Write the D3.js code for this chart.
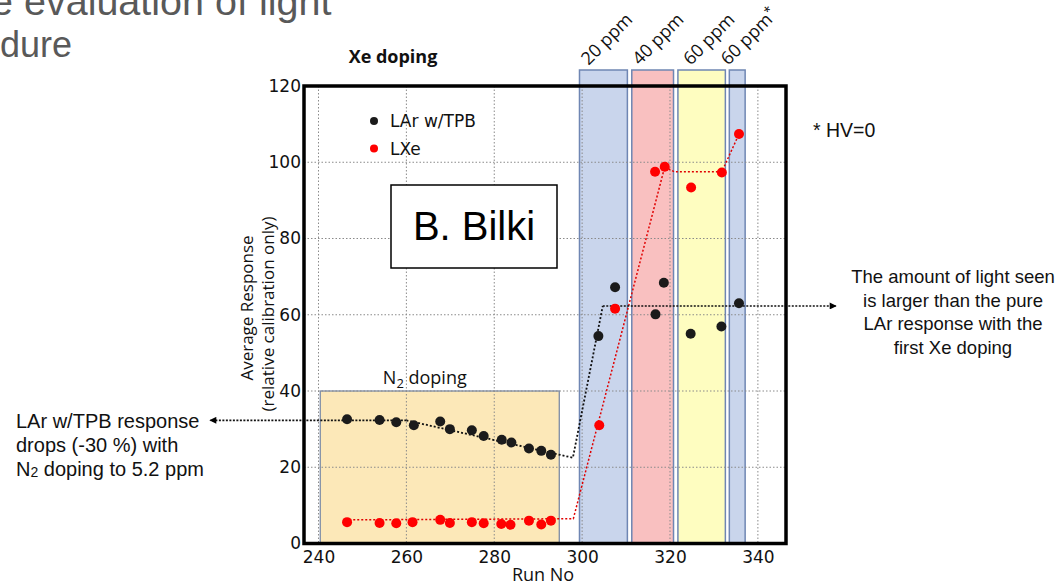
<!DOCTYPE html>
<html>
<head>
<meta charset="utf-8">
<script src="https://cdn.jsdelivr.net/npm/d3@7"></script>
<style>
  body { margin: 0; background: #fff; }
  svg { display: block; }
</style>
</head>
<body>
<div id="chart"></div>
<script>
// run numbers and responses
const larRun  = [246.5, 253.9, 257.7, 261.7, 267.7, 269.9, 274.9, 277.6, 281.7, 283.9, 287.9, 290.7, 292.9,
                 303.7, 307.5, 316.7, 318.6, 324.7, 331.7, 335.7];
const larResp = [32.6, 32.4, 31.8, 31.0, 32.0, 30.0, 29.7, 28.2, 27.2, 26.5, 24.9, 24.3, 23.3,
                 54.4, 67.2, 60.1, 68.4, 55.0, 56.9, 63.0];
const lxeRun  = [246.5, 253.9, 257.7, 261.4, 267.7, 269.9, 274.9, 277.6, 281.6, 283.7, 287.9, 290.7, 292.9,
                 303.9, 307.5, 316.6, 318.8, 324.8, 331.8, 335.7];
const lxeResp = [5.6, 5.4, 5.3, 5.6, 6.2, 5.4, 5.6, 5.3, 5.1, 4.9, 6.0, 5.0, 6.0,
                 31.0, 61.6, 97.5, 98.8, 93.4, 97.3, 107.4];

// dotted trend lines
const larTrendRun  = [260, 297.9, 304.7];
const larTrendResp = [32.3, 22.5, 62.3];
const lxeTrendRun  = [247, 298, 318.8, 321, 331.8, 335.7];
const lxeTrendResp = [6.2, 6.5, 98.8, 97.5, 97.5, 107.4];

// Xe doping periods
const bandStart = [299.4, 311.3, 321.8, 333.5];
const bandEnd   = [310.3, 320.8, 332.6, 337.1];
const bandLabel = ['20 ppm', '40 ppm', '60 ppm', '60 ppm'];
const bandStar  = [false, false, false, true];
const bandFill  = ['#c9d5ec', '#f9c0c0', '#fefdc0', '#c9d5ec'];

// N2 doping period
const n2Range = [240.4, 294.8];
const n2Top = 40;

const xTicks = [240, 260, 280, 300, 320, 340];
const yTicks = [0, 20, 40, 60, 80, 100, 120];

const W = 1060, H = 587;
const svg = d3.select('#chart').append('svg')
    .attr('width', W).attr('height', H);

const x = d3.scaleLinear().domain([236.7, 346.4]).range([304, 786]);
const y = d3.scaleLinear().domain([0, 120]).range([543.5, 86]);

const defs = svg.append('defs');
defs.append('marker')
    .attr('id', 'arrow')
    .attr('viewBox', '0 0 10 10')
    .attr('refX', 9).attr('refY', 5)
    .attr('markerWidth', 9).attr('markerHeight', 7)
    .attr('markerUnits', 'userSpaceOnUse')
    .attr('orient', 'auto')
  .append('path')
    .attr('d', 'M0,0L10,5L0,10z')
    .attr('fill', '#000');

// slide title remnants (cut off by the slide edge, as in the source)
const title = svg.append('g')
    .attr('font-family', 'Liberation Sans, Arial, sans-serif')
    .attr('fill', '#595959');
title.append('text').attr('x', -9).attr('y', 15).attr('font-size', 39.5)
    .text('e evaluation of light');
title.append('text').attr('x', 0).attr('y', 57).attr('font-size', 36)
    .text('dure');

// N2 box
svg.append('rect')
    .attr('x', x(n2Range[0])).attr('y', y(n2Top))
    .attr('width', x(n2Range[1]) - x(n2Range[0]))
    .attr('height', y(0) - y(n2Top))
    .attr('fill', '#fce8b8')
    .attr('stroke', '#7d8ca6').attr('stroke-width', 1.3);

// Xe bands
const bands = svg.append('g');
bandStart.forEach((b, i) => {
    bands.append('rect')
        .attr('x', x(b)).attr('y', 70)
        .attr('width', x(bandEnd[i]) - x(b))
        .attr('height', y(0) - 70)
        .attr('fill', bandFill[i])
        .attr('stroke', '#6f86b3').attr('stroke-width', 1.5);
    const cx = (x(b) + x(bandEnd[i])) / 2;
    const t = bands.append('text')
        .attr('transform', 'translate(' + (cx - 15 + i * 2) + ',66) rotate(-45)')
        .attr('font-family', 'Open Sans, sans-serif')
        .attr('font-size', 18)
        .attr('fill', '#111')
        .text(bandLabel[i]);
    if (bandStar[i]) {
        t.append('tspan').attr('dy', -6).attr('font-size', 13).text('*');
    }
});

// grid
const grid = svg.append('g')
    .attr('stroke', '#8a8a8a').attr('stroke-width', 1)
    .attr('stroke-dasharray', '1.5,2');
xTicks.forEach(v => {
    grid.append('line')
        .attr('x1', x(v)).attr('x2', x(v))
        .attr('y1', y(120)).attr('y2', y(0));
});
yTicks.slice(1, -1).forEach(v => {
    grid.append('line')
        .attr('x1', x.range()[0]).attr('x2', x.range()[1])
        .attr('y1', y(v)).attr('y2', y(v));
});

// axes (labels only)
const yAxis = svg.append('g')
    .attr('transform', 'translate(' + x.range()[0] + ',0)')
    .call(d3.axisLeft(y).tickValues(yTicks).tickSize(0).tickPadding(3));
const xAxis = svg.append('g')
    .attr('transform', 'translate(0,' + y(0) + ')')
    .call(d3.axisBottom(x).tickValues(xTicks).tickSize(0).tickPadding(7));
[yAxis, xAxis].forEach(a => {
    a.select('.domain').remove();
    a.selectAll('text')
        .attr('font-family', 'DejaVu Sans, sans-serif')
        .attr('font-size', 17)
        .attr('fill', '#111');
});

// trend lines
const line = d3.line().x(d => x(d[0])).y(d => y(d[1]));
svg.append('path')
    .datum(lxeTrendRun.map((r, i) => [r, lxeTrendResp[i]]))
    .attr('d', line)
    .attr('fill', 'none').attr('stroke', '#e00000')
    .attr('stroke-width', 1.5).attr('stroke-dasharray', '2,2');
svg.append('path')
    .datum(larTrendRun.map((r, i) => [r, larTrendResp[i]]))
    .attr('d', line)
    .attr('fill', 'none').attr('stroke', '#111')
    .attr('stroke-width', 1.8).attr('stroke-dasharray', '2,2');

// annotation arrows carried on from the LAr trend
svg.append('line')
    .attr('x1', x(larTrendRun[0])).attr('y1', y(larTrendResp[0]))
    .attr('x2', 210).attr('y2', y(larTrendResp[0]))
    .attr('stroke', '#111').attr('stroke-width', 1.6)
    .attr('stroke-dasharray', '2,1.5')
    .attr('marker-end', 'url(#arrow)');
svg.append('line')
    .attr('x1', x(larTrendRun[2])).attr('y1', y(larTrendResp[2]))
    .attr('x2', 836).attr('y2', y(larTrendResp[2]))
    .attr('stroke', '#111').attr('stroke-width', 1.6)
    .attr('stroke-dasharray', '2,1.5')
    .attr('marker-end', 'url(#arrow)');

// points
svg.append('g').selectAll('circle')
    .data(larRun.map((r, i) => [r, larResp[i]]))
    .join('circle')
    .attr('cx', d => x(d[0])).attr('cy', d => y(d[1]))
    .attr('r', 5).attr('fill', '#1b1b1b');
svg.append('g').selectAll('circle')
    .data(lxeRun.map((r, i) => [r, lxeResp[i]]))
    .join('circle')
    .attr('cx', d => x(d[0])).attr('cy', d => y(d[1]))
    .attr('r', 5).attr('fill', '#ff0000');

// frame
svg.append('rect')
    .attr('x', x.range()[0]).attr('y', y(120))
    .attr('width', x.range()[1] - x.range()[0])
    .attr('height', y(0) - y(120))
    .attr('fill', 'none').attr('stroke', '#000').attr('stroke-width', 3.5);

// legend
const legend = svg.append('g')
    .attr('font-family', 'DejaVu Sans, sans-serif')
    .attr('font-size', 17).attr('fill', '#111');
[['LAr w/TPB', '#1b1b1b'], ['LXe', '#ff0000']].forEach((d, i) => {
    legend.append('circle').attr('cx', 374).attr('cy', 121 + i * 27.5)
        .attr('r', 4).attr('fill', d[1]);
    legend.append('text').attr('x', 390).attr('y', 127 + i * 27.5).text(d[0]);
});

// B. Bilki box
svg.append('rect')
    .attr('x', 391).attr('y', 185).attr('width', 166).attr('height', 83)
    .attr('fill', '#fff').attr('stroke', '#000').attr('stroke-width', 1.5);
svg.append('text')
    .attr('x', 474).attr('y', 240).attr('text-anchor', 'middle')
    .attr('font-family', 'Liberation Sans, Arial, sans-serif')
    .attr('font-size', 40).attr('fill', '#000')
    .text('B. Bilki');

// titles
svg.append('text')
    .attr('x', 393).attr('y', 63).attr('text-anchor', 'middle')
    .attr('font-family', 'Open Sans, sans-serif')
    .attr('font-size', 18).attr('font-weight', 'bold').attr('fill', '#111')
    .text('Xe doping');
svg.append('text')
    .attr('x', 543).attr('y', 581).attr('text-anchor', 'middle')
    .attr('font-family', 'Open Sans, sans-serif')
    .attr('font-size', 18).attr('fill', '#111')
    .text('Run No');
const yTitle = svg.append('g')
    .attr('font-family', 'Open Sans, sans-serif')
    .attr('font-size', 17).attr('fill', '#111')
    .attr('text-anchor', 'middle');
yTitle.append('text')
    .attr('transform', 'translate(253,308) rotate(-90)')
    .text('Average Response');
yTitle.append('text')
    .attr('transform', 'translate(274,314) rotate(-90)')
    .text('(relative calibration only)');

const n2Label = svg.append('text')
    .attr('x', x((n2Range[0] + n2Range[1]) / 2) - 15).attr('y', 384)
    .attr('text-anchor', 'middle')
    .attr('font-family', 'Open Sans, sans-serif')
    .attr('font-size', 18).attr('fill', '#111');
n2Label.append('tspan').text('N');
n2Label.append('tspan').attr('font-size', 13).attr('dy', 4).text('2');
n2Label.append('tspan').attr('dy', -4).text(' doping');

// side notes
const note = svg.append('g')
    .attr('font-family', 'Liberation Sans, Arial, sans-serif')
    .attr('font-size', 18.5).attr('fill', '#111');
note.append('text').attr('x', 813).attr('y', 137).attr('font-size', 19.5).text('* HV=0');

const rightLines = ['The amount of light seen', 'is larger than the pure',
                    'LAr response with the', 'first Xe doping'];
rightLines.forEach((s, i) => {
    note.append('text').attr('x', 953).attr('y', 283 + i * 23.5)
        .attr('text-anchor', 'middle').text(s);
});

const left = note.append('g').attr('font-size', 20);
left.append('text').attr('x', 16).attr('y', 428).text('LAr w/TPB response');
left.append('text').attr('x', 16).attr('y', 452).text('drops (-30 %) with');
const l3 = left.append('text').attr('x', 16).attr('y', 476);
l3.append('tspan').text('N');
l3.append('tspan').attr('font-size', 14).attr('dy', 1).text('2');
l3.append('tspan').attr('dy', -1).text(' doping to 5.2 ppm');
</script>
</body>
</html>
